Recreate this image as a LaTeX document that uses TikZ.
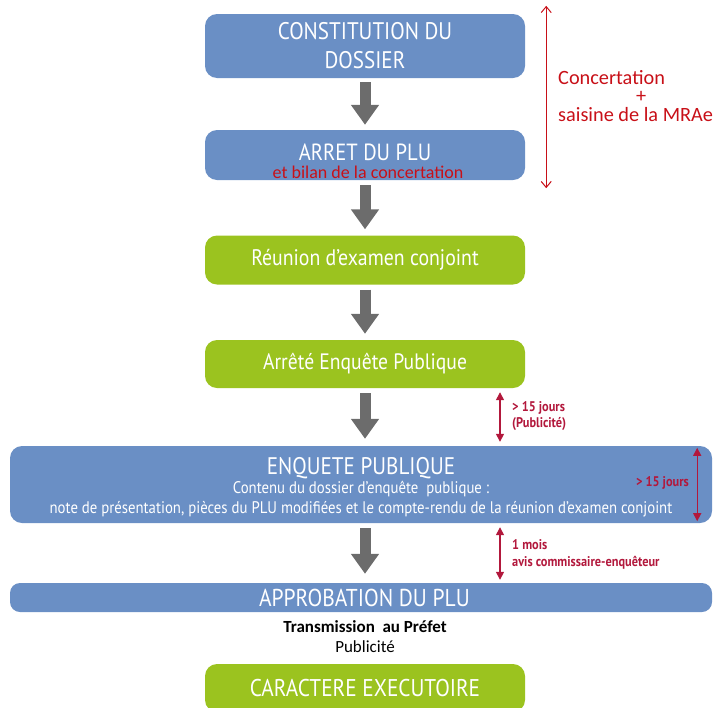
\documentclass[tikz,border=0pt]{standalone}
\usepackage{fontspec}
\setmainfont{Carlito}
\newfontfamily\condfont[FakeStretch=0.88]{PT Sans}
\usetikzlibrary{arrows.meta,positioning}
\definecolor{bleu}{RGB}{106,143,197}
\definecolor{vert}{RGB}{155,195,31}
\definecolor{gris}{RGB}{108,108,108}
\definecolor{rouge}{RGB}{200,16,24}
\definecolor{bordeaux}{RGB}{178,24,60}

\newcommand\petit{\fontsize{16.8}{20}\selectfont}

\tikzset{
  etape/.style={rectangle, rounded corners=12pt, minimum width=320pt, inner sep=0pt,
    text=white, align=center, font=\condfont\fontsize{24}{29}\selectfont},
  bleue/.style={etape, fill=bleu},
  verte/.style={etape, fill=vert},
  fleche/.style={gris, line width=11pt, -{Triangle[width=27pt,length=20pt]}},
  delai/.style={bordeaux, line width=1.4pt, {Triangle[width=8pt,length=8pt]}-{Triangle[width=8pt,length=8pt]}},
  concert/.style={rouge, line width=1pt, {Straight Barb[width=10pt,length=6pt]}-{Straight Barb[width=10pt,length=6pt]}},
  note/.style={bordeaux, inner sep=0pt, align=left, font=\condfont\bfseries\fontsize{14}{15.5}\selectfont},
}

\begin{document}
\begin{tikzpicture}[x=1pt,y=-1pt]
\useasboundingbox (0,0) rectangle (714,707);

% Etapes
\node[bleue, minimum height=64pt] (cd) at (365,46) {CONSTITUTION DU\\DOSSIER};
\node[bleue, minimum height=50pt] (ad) at (365,155) {};
\node[inner sep=0pt, text=white, font=\condfont\fontsize{23.4}{29}\selectfont] (adt) at (365,152) {ARRET DU PLU};
\node[rouge, font=\fontsize{18}{18}\selectfont, inner sep=0pt, anchor=base] (bilan) at (368,178) {et bilan de la concertation};
\node[verte, minimum height=49pt, font=\condfont\fontsize{22.5}{24}\selectfont] (rec) at (365,260) {Réunion d’examen conjoint};
\node[verte, minimum height=48pt, font=\condfont\fontsize{22.3}{24}\selectfont] (aep) at (365,364) {Arrêté Enquête Publique};
\node[bleue, minimum width=702pt, minimum height=77pt, font=\condfont\fontsize{24}{20}\selectfont] (ep) at (361,484.5)
  {ENQUETE PUBLIQUE\rule{0pt}{22pt}\\[-1pt]
   \petit Contenu du dossier d’enquête\ \ publique :\\
   \petit note de présentation, pièces du PLU modifiées et le compte-rendu de la réunion d’examen conjoint};
\node[bleue, minimum width=702pt, minimum height=29pt, rounded corners=10pt, font=\condfont\fontsize{24.4}{24}\selectfont] (app) at (361,597.5) {\hspace*{7pt}APPROBATION DU PLU};
\node[inner sep=0pt, align=center, font=\fontsize{17}{20}\selectfont] (tp) at (365,637)
  {\textbf{Transmission\ \ au Préfet}\\Publicité};
\node[verte, minimum height=48pt, font=\condfont\fontsize{24.2}{24}\selectfont] (ce) at (365,688) {CARACTERE EXECUTOIRE};

% Fleches grises
\draw[fleche] ([yshift=-4pt]cd.south) -- ([yshift=5pt]ad.north);
\draw[fleche] ([yshift=-5pt]ad.south) -- ([yshift=6pt]rec.north);
\draw[fleche] ([yshift=-5pt]rec.south) -- ([yshift=6pt]aep.north);
\draw[fleche] ([yshift=-5pt]aep.south) -- ([xshift=4pt,yshift=7pt]ep.north);
\draw[fleche] ([xshift=4pt,yshift=-5pt]ep.south) -- ([xshift=4pt,yshift=9pt]app.north);

% Delais
\draw[concert] ([xshift=21pt,yshift=8pt]cd.north east) -- ([xshift=21pt,yshift=-8pt]ad.south east);
\node[rouge, anchor=west, align=left, inner sep=0pt, font=\fontsize{20.3}{18.5}\selectfont] (conc) at (558,96)
  {Concertation\\\hspace*{78pt}+\\saisine de la MRAe};

\draw[delai] ([xshift=135pt,yshift=-4pt]aep.south) -- ([xshift=139pt,yshift=4pt]ep.north);
\node[note, anchor=west] (pub) at (512,416) {> 15 jours\\(Publicité)};

\draw[delai] ([xshift=-15pt,yshift=-2pt]ep.north east) -- ([xshift=-15pt,yshift=2pt]ep.south east);
\node[note, anchor=east] (dur) at (689,483) {> 15 jours};

\draw[delai] ([xshift=139pt,yshift=-4pt]ep.south) -- ([xshift=139pt,yshift=3pt]app.north);
\node[note, anchor=west, font=\condfont\bfseries\fontsize{14}{17}\selectfont] (mois) at (512,554) {1 mois\\avis commissaire-enquêteur};
\end{tikzpicture}
\end{document}
